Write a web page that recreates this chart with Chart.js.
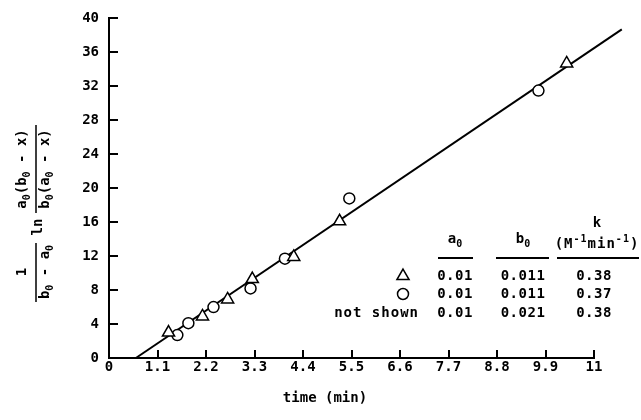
<!DOCTYPE html>
<html>
<head>
<meta charset="utf-8">
<script src="https://cdn.jsdelivr.net/npm/chart.js@4.4.1/dist/chart.umd.min.js"></script>
<style>
  html, body { margin: 0; padding: 0; background: #fff; }
</style>
</head>
<body>
<canvas id="kinChart" width="641" height="420"></canvas>
<script>
// axis ticks
const xTicks = [0, 1.1, 2.2, 3.3, 4.4, 5.5, 6.6, 7.7, 8.8, 9.9, 11];
const yTicks = [0, 4, 8, 12, 16, 20, 24, 28, 32, 36, 40];

// triangles: a0 = 0.01, b0 = 0.011
const triTime = [1.35, 2.12, 2.69, 3.25, 4.19, 5.23, 10.38];
const triValue = [3.0, 4.9, 6.9, 9.3, 11.9, 16.1, 34.7];

// circles: a0 = 0.01, b0 = 0.011
const circTime = [1.55, 1.80, 2.37, 3.21, 3.99, 5.45, 9.74];
const circValue = [2.7, 4.1, 6.0, 8.2, 11.7, 18.8, 31.5];

// fitted straight line
const fitTime = [0.61, 11.63];
const fitValue = [0, 38.7];

// inset table
const rowKeys = ["triangle", "circle", "not shown"];
const a0Col = ["0.01", "0.01", "0.01"];
const b0Col = ["0.011", "0.011", "0.021"];
const kCol = ["0.38", "0.37", "0.38"];

const MONO = '"DejaVu Sans Mono", monospace';

function pts(xs, ys) {
    return xs.map((x, i) => ({ x: x, y: ys[i] }));
}

// draws text with sub (1) / superscript (2) pieces
function richText(ctx, parts, x, y, align, size, spacing) {
    const small = Math.round(size * 0.72);
    ctx.letterSpacing = (spacing || 0) + "px";
    let w = 0;
    parts.forEach(p => {
        ctx.font = "bold " + (p[1] ? small : size) + "px " + MONO;
        w += ctx.measureText(p[0]).width;
    });
    let cx = align === "center" ? x - w / 2 : (align === "right" ? x - w : x);
    ctx.textAlign = "left";
    ctx.textBaseline = "alphabetic";
    parts.forEach(p => {
        ctx.font = "bold " + (p[1] ? small : size) + "px " + MONO;
        const dy = p[1] === 1 ? size * 0.32 : (p[1] === 2 ? -size * 0.42 : 0);
        ctx.fillText(p[0], cx, y + dy);
        cx += ctx.measureText(p[0]).width;
    });
    ctx.letterSpacing = "0px";
}

function drawTri(ctx, x, y, r) {
    ctx.beginPath();
    ctx.moveTo(x, y - r);
    ctx.lineTo(x + r * Math.sin(Math.PI * 2 / 3), y + r / 2);
    ctx.lineTo(x - r * Math.sin(Math.PI * 2 / 3), y + r / 2);
    ctx.closePath();
    ctx.fillStyle = "#fff";
    ctx.fill();
    ctx.stroke();
}

function drawCirc(ctx, x, y, r) {
    ctx.beginPath();
    ctx.arc(x, y, r, 0, Math.PI * 2);
    ctx.fillStyle = "#fff";
    ctx.fill();
    ctx.stroke();
}

const extras = {
    id: "extras",
    afterDraw(chart) {
        const ctx = chart.ctx;
        const xs = chart.scales.x, ys = chart.scales.y;
        ctx.save();
        ctx.strokeStyle = "#000";
        ctx.fillStyle = "#000";

        // inward tick marks
        ctx.lineWidth = 2;
        ctx.beginPath();
        xTicks.forEach(v => {
            if (v === 0) return;
            const px = Math.round(xs.getPixelForValue(v));
            ctx.moveTo(px, ys.bottom);
            ctx.lineTo(px, ys.bottom - 8);
        });
        yTicks.forEach(v => {
            if (v === 0) return;
            const py = Math.round(ys.getPixelForValue(v));
            ctx.moveTo(xs.left, py);
            ctx.lineTo(xs.left + 9, py);
        });
        ctx.stroke();

        // x title
        ctx.font = "bold 14px " + MONO;
        ctx.textAlign = "center";
        ctx.textBaseline = "middle";
        ctx.fillText("time (min)", 325, 398);

        // y title (rotated fraction expression)
        ctx.save();
        ctx.translate(36, 215);
        ctx.rotate(-Math.PI / 2);
        ctx.fillStyle = "#000";
        ctx.lineWidth = 1.5;
        richText(ctx, [["1", 0]], -57, -10, "center", 14);
        richText(ctx, [["b", 0], ["0", 1], [" - a", 0], ["0", 1]], -57, 13, "center", 14);
        ctx.beginPath();
        ctx.moveTo(-87, 0); ctx.lineTo(-28, 0);
        ctx.moveTo(2, 0); ctx.lineTo(90, 0);
        ctx.stroke();
        richText(ctx, [["ln", 0]], -12, 6, "center", 14);
        richText(ctx, [["a", 0], ["0", 1], ["(b", 0], ["0", 1], [" - x)", 0]], 46, -10, "center", 14);
        richText(ctx, [["b", 0], ["0", 1], ["(a", 0], ["0", 1], [" - x)", 0]], 46, 13, "center", 14);
        ctx.restore();

        // inset table
        const colA = 455, colB = 523, colK = 594;
        richText(ctx, [["k", 0]], 597, 227, "center", 14);
        richText(ctx, [["a", 0], ["0", 1]], colA, 243, "center", 14);
        richText(ctx, [["b", 0], ["0", 1]], colB, 243, "center", 14);
        richText(ctx, [["(M", 0], ["-1", 2], ["min", 0], ["-1", 2], [")", 0]], 597, 248, "center", 14, 1);
        ctx.lineWidth = 2;
        ctx.beginPath();
        ctx.moveTo(438, 258); ctx.lineTo(473, 258);
        ctx.moveTo(496, 258); ctx.lineTo(549, 258);
        ctx.moveTo(557, 258); ctx.lineTo(639, 258);
        ctx.stroke();

        const rowY = [280, 298, 317];
        ctx.lineWidth = 1.5;
        rowKeys.forEach((key, i) => {
            const y = rowY[i];
            if (key === "triangle") {
                drawTri(ctx, 403, y - 4, 7);
            } else if (key === "circle") {
                drawCirc(ctx, 403, y - 4, 5.5);
            } else {
                ctx.fillStyle = "#000";
                richText(ctx, [[key, 0]], 419, y, "right", 14, 1);
            }
            ctx.fillStyle = "#000";
            richText(ctx, [[a0Col[i], 0]], colA, y, "center", 14, 0.5);
            richText(ctx, [[b0Col[i], 0]], colB, y, "center", 14, 0.5);
            richText(ctx, [[kCol[i], 0]], colK, y, "center", 14, 0.5);
        });
        ctx.restore();
    }
};

const tickFont = { family: MONO, size: 14, weight: "bold" };

new Chart(document.getElementById("kinChart"), {
    type: "scatter",
    data: {
        datasets: [
            {
                label: "fit",
                data: pts(fitTime, fitValue),
                showLine: true,
                borderColor: "#000",
                borderWidth: 2,
                pointRadius: 0,
                clip: false,
                order: 2
            },
            {
                label: "triangle",
                data: pts(triTime, triValue),
                pointStyle: "triangle",
                pointRadius: 7,
                borderColor: "#000",
                backgroundColor: "#fff",
                borderWidth: 1.5,
                order: 1
            },
            {
                label: "circle",
                data: pts(circTime, circValue),
                pointStyle: "circle",
                pointRadius: 5.5,
                borderColor: "#000",
                backgroundColor: "#fff",
                borderWidth: 1.5,
                order: 1
            }
        ]
    },
    options: {
        responsive: false,
        animation: false,
        devicePixelRatio: 1,
        layout: { padding: { top: 16, right: 47, left: 0, bottom: 0 } },
        plugins: {
            legend: { display: false },
            tooltip: { enabled: false }
        },
        scales: {
            x: {
                type: "linear",
                min: 0,
                max: 11,
                afterBuildTicks: s => { s.ticks = xTicks.map(v => ({ value: v })); },
                afterFit: s => { s.height = 62; },
                border: { color: "#000", width: 2 },
                grid: { drawOnChartArea: false, drawTicks: false },
                ticks: {
                    color: "#000",
                    font: tickFont,
                    padding: 1,
                    maxRotation: 0,
                    autoSkip: false,
                    callback: v => String(v)
                }
            },
            y: {
                type: "linear",
                min: 0,
                max: 40,
                afterBuildTicks: s => { s.ticks = yTicks.map(v => ({ value: v })); },
                afterFit: s => { s.width = 109; },
                border: { color: "#000", width: 2 },
                grid: { drawOnChartArea: false, drawTicks: false },
                ticks: {
                    color: "#000",
                    font: tickFont,
                    padding: 10,
                    autoSkip: false,
                    callback: v => String(v)
                }
            }
        }
    },
    plugins: [extras]
});
</script>
</body>
</html>
